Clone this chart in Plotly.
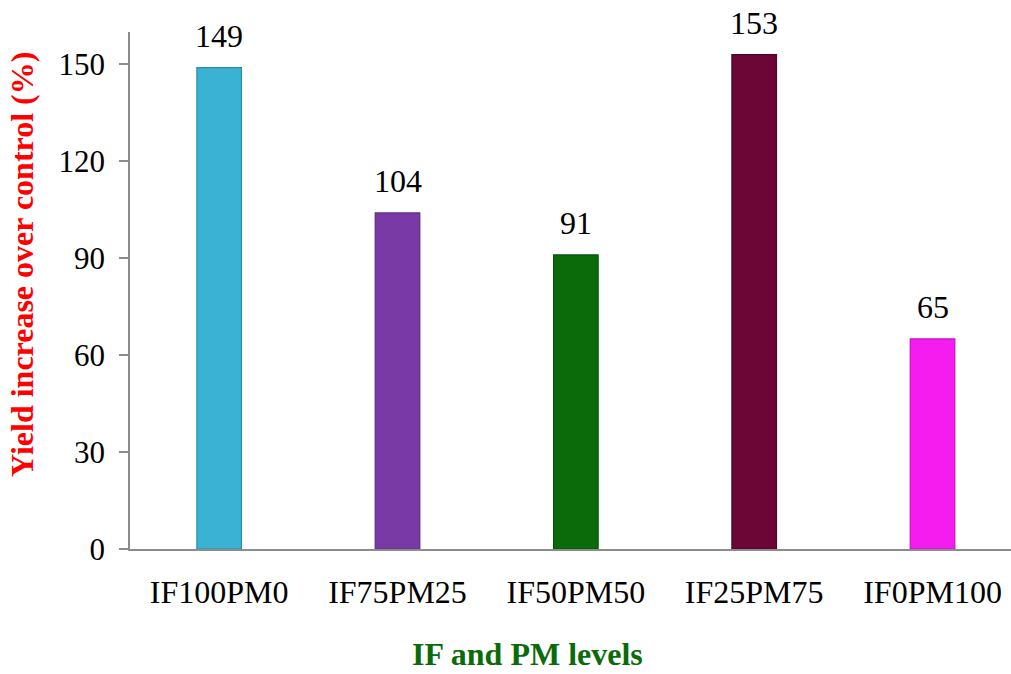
import plotly.graph_objects as go

categories = ["IF100PM0", "IF75PM25", "IF50PM50", "IF25PM75", "IF0PM100"]
values = [149, 104, 91, 153, 65]
bar_colors = ["#3AB2D4", "#7A3AA6", "#0B6B0B", "#6B0636", "#F51CF0"]
edge_colors = ["#2B8DA8", "#5E2A85", "#075207", "#520328", "#C810C4"]
y_ticks = [0, 30, 60, 90, 120, 150]

FONT = "Liberation Serif, Times New Roman, serif"

fig = go.Figure()
fig.add_trace(go.Bar(
    x=categories, y=values,
    width=0.25,
    marker=dict(color=bar_colors, line=dict(color=edge_colors, width=1.2)),
    showlegend=False,
))

for c, v in zip(categories, values):
    fig.add_annotation(x=c, y=v, text=str(v), showarrow=False,
                       yanchor="bottom", yshift=12,
                       font=dict(family=FONT, size=32, color="black"))

fig.add_annotation(xref="paper", yref="paper", x=(527 - 130) / (1011 - 130), y=-(674 - 549) / 517,
                   text="<b>IF and PM levels</b>", showarrow=False,
                   xanchor="center", yanchor="bottom",
                   font=dict(family=FONT, size=32, color="#0B6B0B"))
fig.add_annotation(xref="paper", yref="paper", x=-(130 - 22) / (1011 - 130), y=(549 - 265) / 517,
                   text="<b>Yield increase over control (%)</b>", showarrow=False, textangle=-90,
                   xanchor="center", yanchor="middle",
                   font=dict(family=FONT, size=32, color="red"))

fig.update_layout(
    width=1011, height=674,
    margin=dict(l=130, r=0, t=32, b=125),
    paper_bgcolor="white", plot_bgcolor="white",
    font=dict(family=FONT, color="black"),
    xaxis=dict(
        type="category", range=[-0.5, 4.44],
        showline=True, linecolor="#8C8C8C", linewidth=1.5,
        ticks="outside", ticklen=0, tickcolor="rgba(0,0,0,0)",
        ticklabelstandoff=14,
        tickfont=dict(size=32, color="black"),
        showgrid=False, zeroline=False,
    ),
    yaxis=dict(
        range=[0, 160], tickvals=y_ticks,
        showline=True, linecolor="#8C8C8C", linewidth=1.5,
        ticks="outside", ticklen=9, tickcolor="#8C8C8C", tickwidth=1.5,
        ticklabelstandoff=8,
        tickfont=dict(size=31, color="black"),
        showgrid=False, zeroline=False,
    ),
)

fig.write_html("out.html")
